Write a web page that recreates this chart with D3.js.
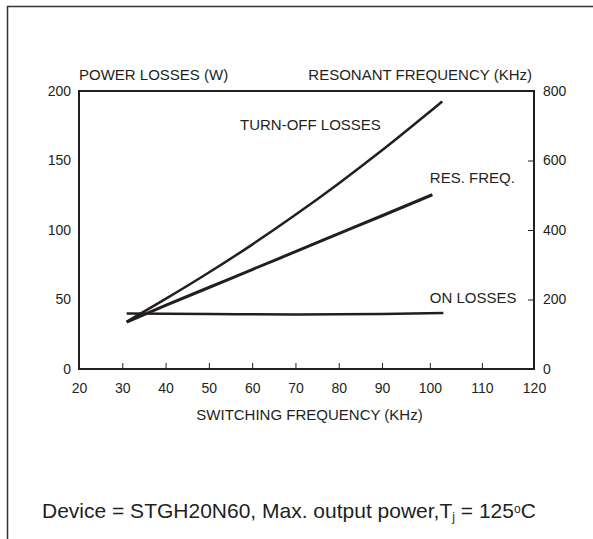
<!DOCTYPE html>
<html>
<head>
<meta charset="utf-8">
<script src="https://cdn.jsdelivr.net/npm/d3@7"></script>
<style>
  html, body { margin: 0; padding: 0; background: #fff; }
  svg text { font-family: "Liberation Sans", Arial, sans-serif; fill: #231f20; }
</style>
</head>
<body>
<div id="chart"></div>
<script>
// switching frequency (kHz) vs losses (W) and resonant frequency (kHz)

const xTicks = [20, 30, 40, 50, 60, 70, 80, 90, 100, 110, 120];
const lossTicks = [0, 50, 100, 150, 200];
const freqTicks = [0, 200, 400, 600, 800];

// [switching kHz, watts]
const turnOffLosses = [
    [31, 34], [40, 50.4], [50, 69.4], [60, 89.5], [70, 110.9],
    [80, 133.5], [90, 157.3], [100, 185.1], [102.4, 192.5]
];
// [switching kHz, watts]
const onLosses = [
    [31, 40], [50, 39.6], [70, 39.2], [80, 39.3], [90, 39.6], [102.6, 40.2]
];
// [switching kHz, resonant kHz]
const resFreq = [
    [31, 135], [40, 183], [50, 234.5], [60, 286.3], [70, 337.8],
    [80, 389.4], [90, 441], [100.5, 501.6]
];

const ink = "#231f20";

let margin = { top: 91, right: 59, bottom: 170, left: 79 },
    totalW = 593, totalH = 539,
    width = totalW - margin.left - margin.right,
    height = totalH - margin.top - margin.bottom;

let svg = d3.select("#chart").
    append("svg").
    attr("width", totalW).
    attr("height", totalH);

// outer border (only top/left edges show in the frame)
svg.append("rect").
    attr("x", 7.5).attr("y", 6.5).
    attr("width", totalW + 20).attr("height", totalH + 20).
    attr("fill", "none").
    attr("stroke", "#333").
    attr("stroke-width", 1.5);

let g = svg.append("g").
    attr("transform", "translate(" + margin.left + "," + margin.top + ")");

// the printed axis is a bit stretched above 90 kHz, so use a polylinear scale
let xScale = d3.scaleLinear().
    domain([20, 90, 100, 120]).
    range([0, width * 0.666, width * 0.771, width]);

let yLoss = d3.scaleLinear().domain([0, 200]).range([height, 0]);
let yFreq = d3.scaleLinear().domain([0, 800]).range([height, 0]);

// bottom axis, ticks pointing inward
let xAxis = g.append("g").
    attr("transform", "translate(0," + height + ")").
    call(d3.axisBottom(xScale).
        tickValues(xTicks).
        tickSize(-6).
        tickPadding(14).
        tickFormat(d => d));

// left axis, labels only
let yAxisL = g.append("g").
    call(d3.axisLeft(yLoss).
        tickValues(lossTicks).
        tickSize(0).
        tickPadding(8));

// right axis, ticks pointing inward
let yAxisR = g.append("g").
    attr("transform", "translate(" + width + ",0)").
    call(d3.axisRight(yFreq).
        tickValues(freqTicks).
        tickSize(-6).
        tickPadding(9));

[xAxis, yAxisL, yAxisR].forEach(ax => {
    ax.select(".domain").remove();
    ax.selectAll("text").
        attr("font-family", null).
        style("font-size", "14px").
        style("fill", ink);
    ax.selectAll("line").attr("stroke", ink);
});
xAxis.selectAll(".tick line").filter(d => d === 20 || d === 120).remove();
yAxisR.selectAll(".tick line").filter(d => d === 0 || d === 800).remove();

// plot frame
g.append("rect").
    attr("width", width).
    attr("height", height).
    attr("fill", "none").
    attr("stroke", ink).
    attr("stroke-width", 2);

let lossLine = d3.line().x(d => xScale(d[0])).y(d => yLoss(d[1])).curve(d3.curveMonotoneX);
let freqLine = d3.line().x(d => xScale(d[0])).y(d => yFreq(d[1])).curve(d3.curveMonotoneX);

g.append("path").
    datum(onLosses).
    attr("d", lossLine).
    attr("fill", "none").
    attr("stroke", ink).
    attr("stroke-width", 2.5);

g.append("path").
    datum(turnOffLosses).
    attr("d", lossLine).
    attr("fill", "none").
    attr("stroke", ink).
    attr("stroke-width", 2.5);

g.append("path").
    datum(resFreq).
    attr("d", freqLine).
    attr("fill", "none").
    attr("stroke", ink).
    attr("stroke-width", 3);

// axis titles
g.append("text").
    attr("x", 0).attr("y", -11).
    style("font-size", "15px").
    text("POWER LOSSES (W)");

g.append("text").
    attr("x", width - 2).attr("y", -11).
    attr("text-anchor", "end").
    style("font-size", "15px").
    text("RESONANT FREQUENCY (KHz)");

g.append("text").
    attr("x", width / 2 + 3).attr("y", height + 51).
    attr("text-anchor", "middle").
    style("font-size", "15px").
    text("SWITCHING FREQUENCY (KHz)");

// curve labels
g.append("text").
    attr("x", xScale(57.2)).attr("y", yLoss(171.7)).
    style("font-size", "15px").
    text("TURN-OFF LOSSES");

g.append("text").
    attr("x", xScale(100)).attr("y", yLoss(133.7)).
    style("font-size", "15px").
    text("RES. FREQ.");

g.append("text").
    attr("x", xScale(100)).attr("y", yLoss(47.5)).
    style("font-size", "15px").
    text("ON LOSSES");

// footnote
let note = svg.append("text").
    attr("x", 42).attr("y", 518).
    style("font-size", "21px");
note.append("tspan").text("Device = STGH20N60, Max. output power,T");
note.append("tspan").attr("baseline-shift", "-25%").style("font-size", "12px").text("j");
note.append("tspan").attr("baseline-shift", "0").text(" = 125");
note.append("tspan").attr("baseline-shift", "45%").style("font-size", "12px").text("o");
note.append("tspan").attr("baseline-shift", "0").text("C");
</script>
</body>
</html>
